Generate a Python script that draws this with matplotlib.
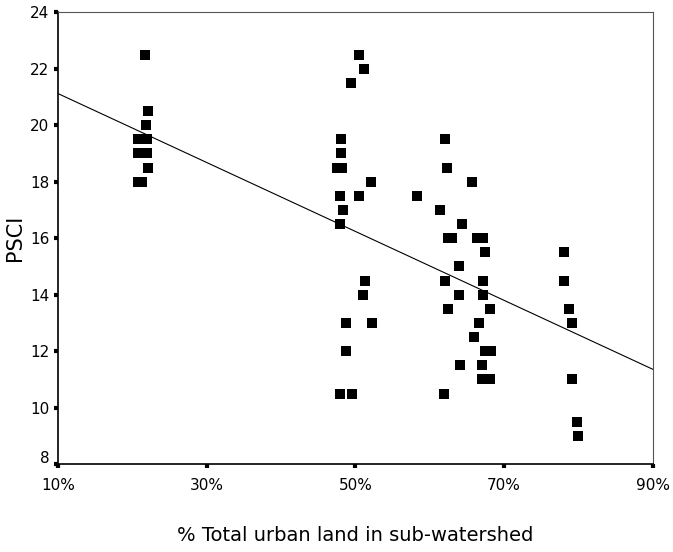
import numpy as np
import matplotlib
matplotlib.use('Agg')
import matplotlib.pyplot as plt
import matplotlib.transforms as mtransforms
from matplotlib.ticker import FuncFormatter

# % total urban land in sub-watershed vs PSCI
urban_pct = [
    21.75, 22.1, 21.9, 20.8, 22.0, 20.8, 22.0, 22.1, 20.8, 21.3,
    50.45, 51.1, 49.4, 48.1, 48.1, 47.6, 48.2, 52.1, 47.9, 50.5,
    48.4, 48.0, 51.3, 51.0, 48.8, 52.3, 48.75, 47.9, 49.5,
    62.1, 62.3, 65.7, 58.3, 61.4, 64.3, 62.4, 63.0, 66.3, 67.1,
    67.5, 64.0, 62.1, 67.1, 64.0, 67.1, 62.4, 68.1, 66.6, 66.0,
    67.5, 68.2, 64.1, 67.0, 67.0, 68.1, 61.9,
    78.1, 78.1, 78.7, 79.2, 79.2, 79.8, 80.0,
]
psci = [
    22.5, 20.5, 20.0, 19.5, 19.5, 19.0, 19.0, 18.5, 18.0, 18.0,
    22.5, 22.0, 21.5, 19.5, 19.0, 18.5, 18.5, 18.0, 17.5, 17.5,
    17.0, 16.5, 14.5, 14.0, 13.0, 13.0, 12.0, 10.5, 10.5,
    19.5, 18.5, 18.0, 17.5, 17.0, 16.5, 16.0, 16.0, 16.0, 16.0,
    15.5, 15.0, 14.5, 14.5, 14.0, 14.0, 13.5, 13.5, 13.0, 12.5,
    12.0, 12.0, 11.5, 11.5, 11.0, 11.0, 10.5,
    15.5, 14.5, 13.5, 13.0, 11.0, 9.5, 9.0,
]

# fitted line as printed in the figure
fit_slope = -0.122
fit_intercept = 22.34

x_ticks = [10, 30, 50, 70, 90]
y_ticks = [8, 10, 12, 14, 16, 18, 20, 22, 24]

fig = plt.figure(figsize=(6.73, 5.52), dpi=100)
ax = fig.add_axes([0.086, 0.159, 0.884, 0.819])

ax.scatter(urban_pct, psci, marker='s', s=42, color='black', linewidths=0, zorder=3)

line_x = np.array([x_ticks[0], x_ticks[-1]])
ax.plot(line_x, fit_intercept + fit_slope * line_x, color='black', linewidth=0.8)

ax.set_xlim(10, 90)
ax.set_ylim(8, 24)
ax.set_xticks(x_ticks)
ax.set_yticks(y_ticks)
ax.xaxis.set_major_formatter(FuncFormatter(lambda v, p: f'{v:.0f}%'))

ax.tick_params(direction='out', length=3, width=3, color='black', labelsize=11)
ax.tick_params(axis='x', pad=7)
ax.tick_params(axis='y', pad=3)

# lift the lowest y label so it clears the first x label
fig.canvas.draw()
ylabels = ax.get_yticklabels()
ylabels[0].set_transform(ylabels[0].get_transform() +
                         mtransforms.ScaledTranslation(0, 5 / 72, fig.dpi_scale_trans))

for side in ['left', 'bottom']:
    ax.spines[side].set_linewidth(1.2)
    ax.spines[side].set_color('black')
for side in ['top', 'right']:
    ax.spines[side].set_linewidth(0.8)
    ax.spines[side].set_color('#555555')

ax.set_xlabel('% Total urban land in sub-watershed', fontsize=14, labelpad=24)
ax.set_ylabel('PSCI', fontsize=15, labelpad=4)

fig.savefig('out.png', dpi=100)
